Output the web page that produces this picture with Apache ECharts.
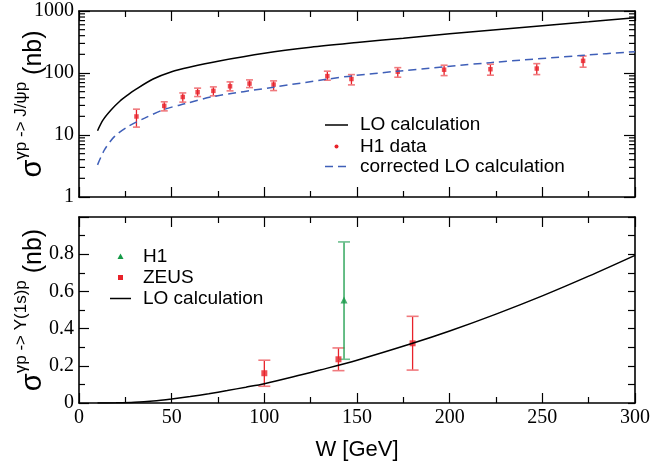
<!DOCTYPE html>
<html><head><meta charset="utf-8">
<script src="https://cdn.jsdelivr.net/npm/echarts@6/dist/echarts.min.js"></script>
<style>html,body{margin:0;padding:0;background:#fff}#c{width:651px;height:465px}</style>
</head><body><div id="c"></div>
<script>
// ---- Top panel: J/psi photoproduction ----
const jpsiW   = [31, 46, 56, 64, 72.5, 81.5, 92, 105, 134, 147, 172, 197, 222, 247, 272];
const jpsiVal = [19.9, 29.5, 41, 49, 51.5, 61, 67.5, 65, 89, 80, 105, 113, 115, 118, 157];
const jpsiLo  = [13.4, 24.5, 33.9, 41.7, 42.8, 51.5, 58.2, 52.1, 76.6, 64.3, 85.5, 90.8, 92.2, 94.2, 124];
const jpsiHi  = [26.1, 34.3, 47.7, 57, 59.7, 71.9, 77.4, 74.6, 107, 94.2, 122, 133.6, 138.6, 141.6, 188];
const loJpsiW   = [10, 13, 17.4, 22, 26.4, 30, 40, 50, 60, 75, 100, 125, 150, 175, 200, 225, 250, 275, 300];
const loJpsiVal = [11.7, 17.5, 25.5, 35, 44.4, 53, 80, 105, 125, 155, 208, 260, 310, 365, 430, 500, 580, 670, 780];
const corrW   = [10, 13.8, 19.2, 26.4, 35.4, 46.2, 57, 72.5, 105, 134, 147, 172, 222, 272.7, 300];
const corrVal = [3.3, 5.8, 9.5, 13.7, 18.7, 26, 31.8, 41.7, 59, 79.5, 89.8, 107, 147, 193.6, 221];
// ---- Bottom panel: Upsilon(1s) photoproduction ----
const zeusW = [100, 140, 180];
const zeusVal = [0.16, 0.235, 0.321];
const zeusLo  = [0.09, 0.174, 0.177];
const zeusHi  = [0.23, 0.296, 0.466];
const h1W = [143];
const h1Val = [0.554];
const h1Lo  = [0.235];
const h1Hi  = [0.866];
const loUpsW   = [10, 20, 30, 40, 50, 60, 70, 80, 90, 100, 120, 130, 150, 180, 200, 225, 250, 275, 300];
const loUpsVal = [0, 0.001, 0.004, 0.011, 0.022, 0.035, 0.05, 0.067, 0.085, 0.104, 0.152, 0.177, 0.23, 0.321, 0.387, 0.478, 0.576, 0.682, 0.794];
// tick labels and legend entries
const xTicks = [0, 50, 100, 150, 200, 250, 300];
const logTicks = [1, 10, 100, 1000];
const linTicks = [0, 0.2, 0.4, 0.6, 0.8];
const topLegend = ['LO calculation', 'H1 data', 'corrected LO calculation'];
const botLegend = ['H1', 'ZEUS', 'LO calculation'];

const logMinor = [];
for (let d = 1; d < 1000; d *= 10) for (let k = 2; k <= 9; k++) logMinor.push(d * k);

const SERIF = 'Liberation Serif', SANS = 'Liberation Sans';
const RED = '#e8222a', RED_CAP = '#f07a7e', GREEN = '#159a47', GREEN_CAP = '#6cbf8e', BLUE = '#3f5fb8';

const chart = echarts.init(document.getElementById('c'), null, {renderer: 'canvas'});

function errBar(color, capColor, capHalf) {
  return function (params, api) {
    const x = api.value(0), lo = api.value(1), hi = api.value(2);
    const a = api.coord([x, lo]), b = api.coord([x, hi]);
    return {type: 'group', children: [
      {type: 'line', shape: {x1: a[0], y1: a[1], x2: b[0], y2: b[1]}, style: {stroke: color, lineWidth: 1.3}},
      {type: 'line', shape: {x1: a[0] - capHalf, y1: a[1], x2: a[0] + capHalf, y2: a[1]}, style: {stroke: capColor, lineWidth: 1.6}},
      {type: 'line', shape: {x1: b[0] - capHalf, y1: b[1], x2: b[0] + capHalf, y2: b[1]}, style: {stroke: capColor, lineWidth: 1.6}}
    ]};
  };
}

const frameLine = {show: true, onZero: false, lineStyle: {color: '#000', width: 1.6}};
function xAx(grid, pos, labels) {
  return {
    type: 'value', gridIndex: grid, position: pos, min: 0, max: 300, interval: 50,
    axisLine: frameLine,
    axisTick: {show: true, inside: true, length: 10, lineStyle: {color: '#000', width: 1.2}},
    minorTick: {show: true, splitNumber: 2, length: 6, lineStyle: {color: '#000', width: 1.2}},
    splitLine: {show: false}, minorSplitLine: {show: false},
    axisLabel: labels ? {show: true, fontFamily: SERIF, fontSize: 20, color: '#000', margin: 5,
      formatter: v => xTicks.includes(v) ? String(v) : ''} : {show: false}
  };
}

function legendGraphic(x0, x1, textX, ys, names, kinds) {
  const els = [];
  names.forEach((n, i) => {
    const y = ys[i], k = kinds[i], cx = (x0 + x1) / 2;
    if (k === 'line') els.push({type: 'line', shape: {x1: x0, y1: y, x2: x1, y2: y}, style: {stroke: '#000', lineWidth: 1.5}});
    if (k === 'dash') els.push({type: 'line', shape: {x1: x0, y1: y, x2: x1, y2: y}, style: {stroke: BLUE, lineWidth: 1.5, lineDash: [8, 5]}});
    if (k === 'dot') els.push({type: 'circle', shape: {cx: cx, cy: y, r: 2}, style: {fill: RED}});
    if (k === 'rect') els.push({type: 'rect', shape: {x: cx - 2.5, y: y - 2.5, width: 5, height: 5}, style: {fill: RED}});
    if (k === 'tri') els.push({type: 'polygon', shape: {points: [[cx, y - 3], [cx + 3, y + 2.5], [cx - 3, y + 2.5]]}, style: {fill: GREEN}});
    els.push({type: 'text', x: textX, y: y, style: {text: n, fontFamily: SANS, fontSize: 19, fill: '#000', verticalAlign: 'middle', align: 'left'}});
  });
  return els;
}

const yName = (sup) => ({
  name: '{s|σ}{u|' + sup + '}{n| (nb)}', nameLocation: 'middle', nameGap: 32, nameMoveOverlap: false,
  nameTextStyle: {color: '#000', rich: {
    s: {fontFamily: SANS, fontSize: 29, lineHeight: 34, verticalAlign: 'bottom'},
    u: {fontFamily: SANS, fontSize: 17, lineHeight: 34, verticalAlign: 'top'},
    n: {fontFamily: SANS, fontSize: 25, lineHeight: 34, verticalAlign: 'bottom'}
  }}
});

const option = {
  animation: false,
  backgroundColor: '#fff',
  grid: [
    {left: 79, top: 11, width: 556, height: 186, outerBoundsMode: 'none', containLabel: false},
    {left: 79, top: 217, width: 556, height: 186, outerBoundsMode: 'none', containLabel: false}
  ],
  xAxis: [
    xAx(0, 'bottom', false),
    xAx(0, 'top', false),
    Object.assign(xAx(1, 'bottom', true), {
      name: 'W [GeV]', nameLocation: 'middle', nameGap: 36, nameMoveOverlap: false,
      nameTextStyle: {fontFamily: SANS, fontSize: 22, color: '#000'}
    }),
    xAx(1, 'top', false)
  ],
  yAxis: [
    Object.assign({
      type: 'log', logBase: 10, gridIndex: 0, position: 'left', min: 1, max: 1000, splitNumber: 3,
      axisLine: frameLine,
      axisTick: {show: true, inside: true, length: 11, lineStyle: {color: '#000', width: 1.2}},
      splitLine: {show: false},
      axisLabel: {fontFamily: SERIF, fontSize: 20, color: '#000', margin: 5,
        formatter: v => { const r = Math.round(v); return logTicks.includes(r) ? String(r) : ''; }}
    }, yName('γp -> J/ψp')),
    {
      type: 'log', logBase: 10, gridIndex: 0, position: 'right', min: 1, max: 1000, splitNumber: 3,
      axisLine: frameLine,
      axisTick: {show: true, inside: true, length: 11, lineStyle: {color: '#000', width: 1.2}},
      splitLine: {show: false}, axisLabel: {show: false}
    },
    Object.assign({
      type: 'value', gridIndex: 1, position: 'left', min: 0, max: 1, interval: 0.2,
      axisLine: frameLine,
      axisTick: {show: true, inside: true, length: 10, lineStyle: {color: '#000', width: 1.2}},
      minorTick: {show: true, splitNumber: 2, length: 6, lineStyle: {color: '#000', width: 1.2}},
      splitLine: {show: false}, minorSplitLine: {show: false},
      axisLabel: {fontFamily: SERIF, fontSize: 20, color: '#000', margin: 5,
        formatter: v => { const r = Math.round(v * 10) / 10; return linTicks.includes(r) ? String(r) : ''; }}
    }, yName('γp -> Υ(1s)p')),
    {
      type: 'value', gridIndex: 1, position: 'right', min: 0, max: 1, interval: 0.1,
      axisLine: frameLine,
      axisTick: {show: true, inside: true, length: 7, lineStyle: {color: '#000', width: 1.2}},
      splitLine: {show: false}, axisLabel: {show: false}
    }
  ],
  graphic: legendGraphic(325, 348, 360, [125, 146.5, 166.5], topLegend, ['line', 'dot', 'dash'])
    .concat(legendGraphic(110, 131, 143, [256.5, 277.5, 298.5], botLegend, ['tri', 'rect', 'line'])),
  series: [
    {
      name: 'LO calculation', type: 'line', xAxisIndex: 0, yAxisIndex: 0, smooth: 0.3,
      symbol: 'none', lineStyle: {color: '#000', width: 1.5}, itemStyle: {color: '#000'},
      data: loJpsiW.map((w, i) => [w, loJpsiVal[i]])
    },
    {
      name: 'corrected LO calculation', type: 'line', xAxisIndex: 0, yAxisIndex: 0, smooth: 0.3,
      symbol: 'none', lineStyle: {color: BLUE, width: 1.5, type: [8, 5]}, itemStyle: {color: BLUE},
      data: corrW.map((w, i) => [w, corrVal[i]])
    },
    {
      name: 'H1 data err', type: 'custom', xAxisIndex: 0, yAxisIndex: 0, silent: true,
      renderItem: errBar(RED, RED_CAP, 3.5), encode: {x: 0, y: [1, 2]},
      data: jpsiW.map((w, i) => [w, jpsiLo[i], jpsiHi[i]])
    },
    {
      name: 'H1 data', type: 'scatter', xAxisIndex: 0, yAxisIndex: 0, symbol: 'rect', symbolSize: 4.5,
      itemStyle: {color: RED}, data: jpsiW.map((w, i) => [w, jpsiVal[i]])
    },
    {
      name: 'logMinor', type: 'custom', xAxisIndex: 0, yAxisIndex: 0, silent: true, clip: false,
      encode: {x: 0, y: 1},
      renderItem: function (params, api) {
        const v = api.value(1);
        const l = api.coord([0, v]), r = api.coord([300, v]);
        return {type: 'group', children: [
          {type: 'line', shape: {x1: l[0], y1: l[1], x2: l[0] + 6, y2: l[1]}, style: {stroke: '#000', lineWidth: 1.2}},
          {type: 'line', shape: {x1: r[0] - 6, y1: r[1], x2: r[0], y2: r[1]}, style: {stroke: '#000', lineWidth: 1.2}}
        ]};
      },
      data: logMinor.map(v => [0, v])
    },
    {
      name: 'LO calculation', type: 'line', xAxisIndex: 2, yAxisIndex: 2, smooth: 0.3,
      symbol: 'none', lineStyle: {color: '#000', width: 1.5}, itemStyle: {color: '#000'},
      data: loUpsW.map((w, i) => [w, loUpsVal[i]])
    },
    {
      name: 'ZEUS err', type: 'custom', xAxisIndex: 2, yAxisIndex: 2, silent: true,
      renderItem: errBar(RED, RED_CAP, 6), encode: {x: 0, y: [1, 2]},
      data: zeusW.map((w, i) => [w, zeusLo[i], zeusHi[i]])
    },
    {
      name: 'H1 err', type: 'custom', xAxisIndex: 2, yAxisIndex: 2, silent: true,
      renderItem: errBar(GREEN, GREEN_CAP, 6), encode: {x: 0, y: [1, 2]},
      data: h1W.map((w, i) => [w, h1Lo[i], h1Hi[i]])
    },
    {
      name: 'ZEUS', type: 'scatter', xAxisIndex: 2, yAxisIndex: 2, symbol: 'rect', symbolSize: 6,
      itemStyle: {color: RED}, data: zeusW.map((w, i) => [w, zeusVal[i]])
    },
    {
      name: 'H1', type: 'scatter', xAxisIndex: 2, yAxisIndex: 2, symbol: 'triangle', symbolSize: 7,
      itemStyle: {color: GREEN}, data: h1W.map((w, i) => [w, h1Val[i]])
    }
  ]
};
chart.setOption(option);
</script>
</body></html>
